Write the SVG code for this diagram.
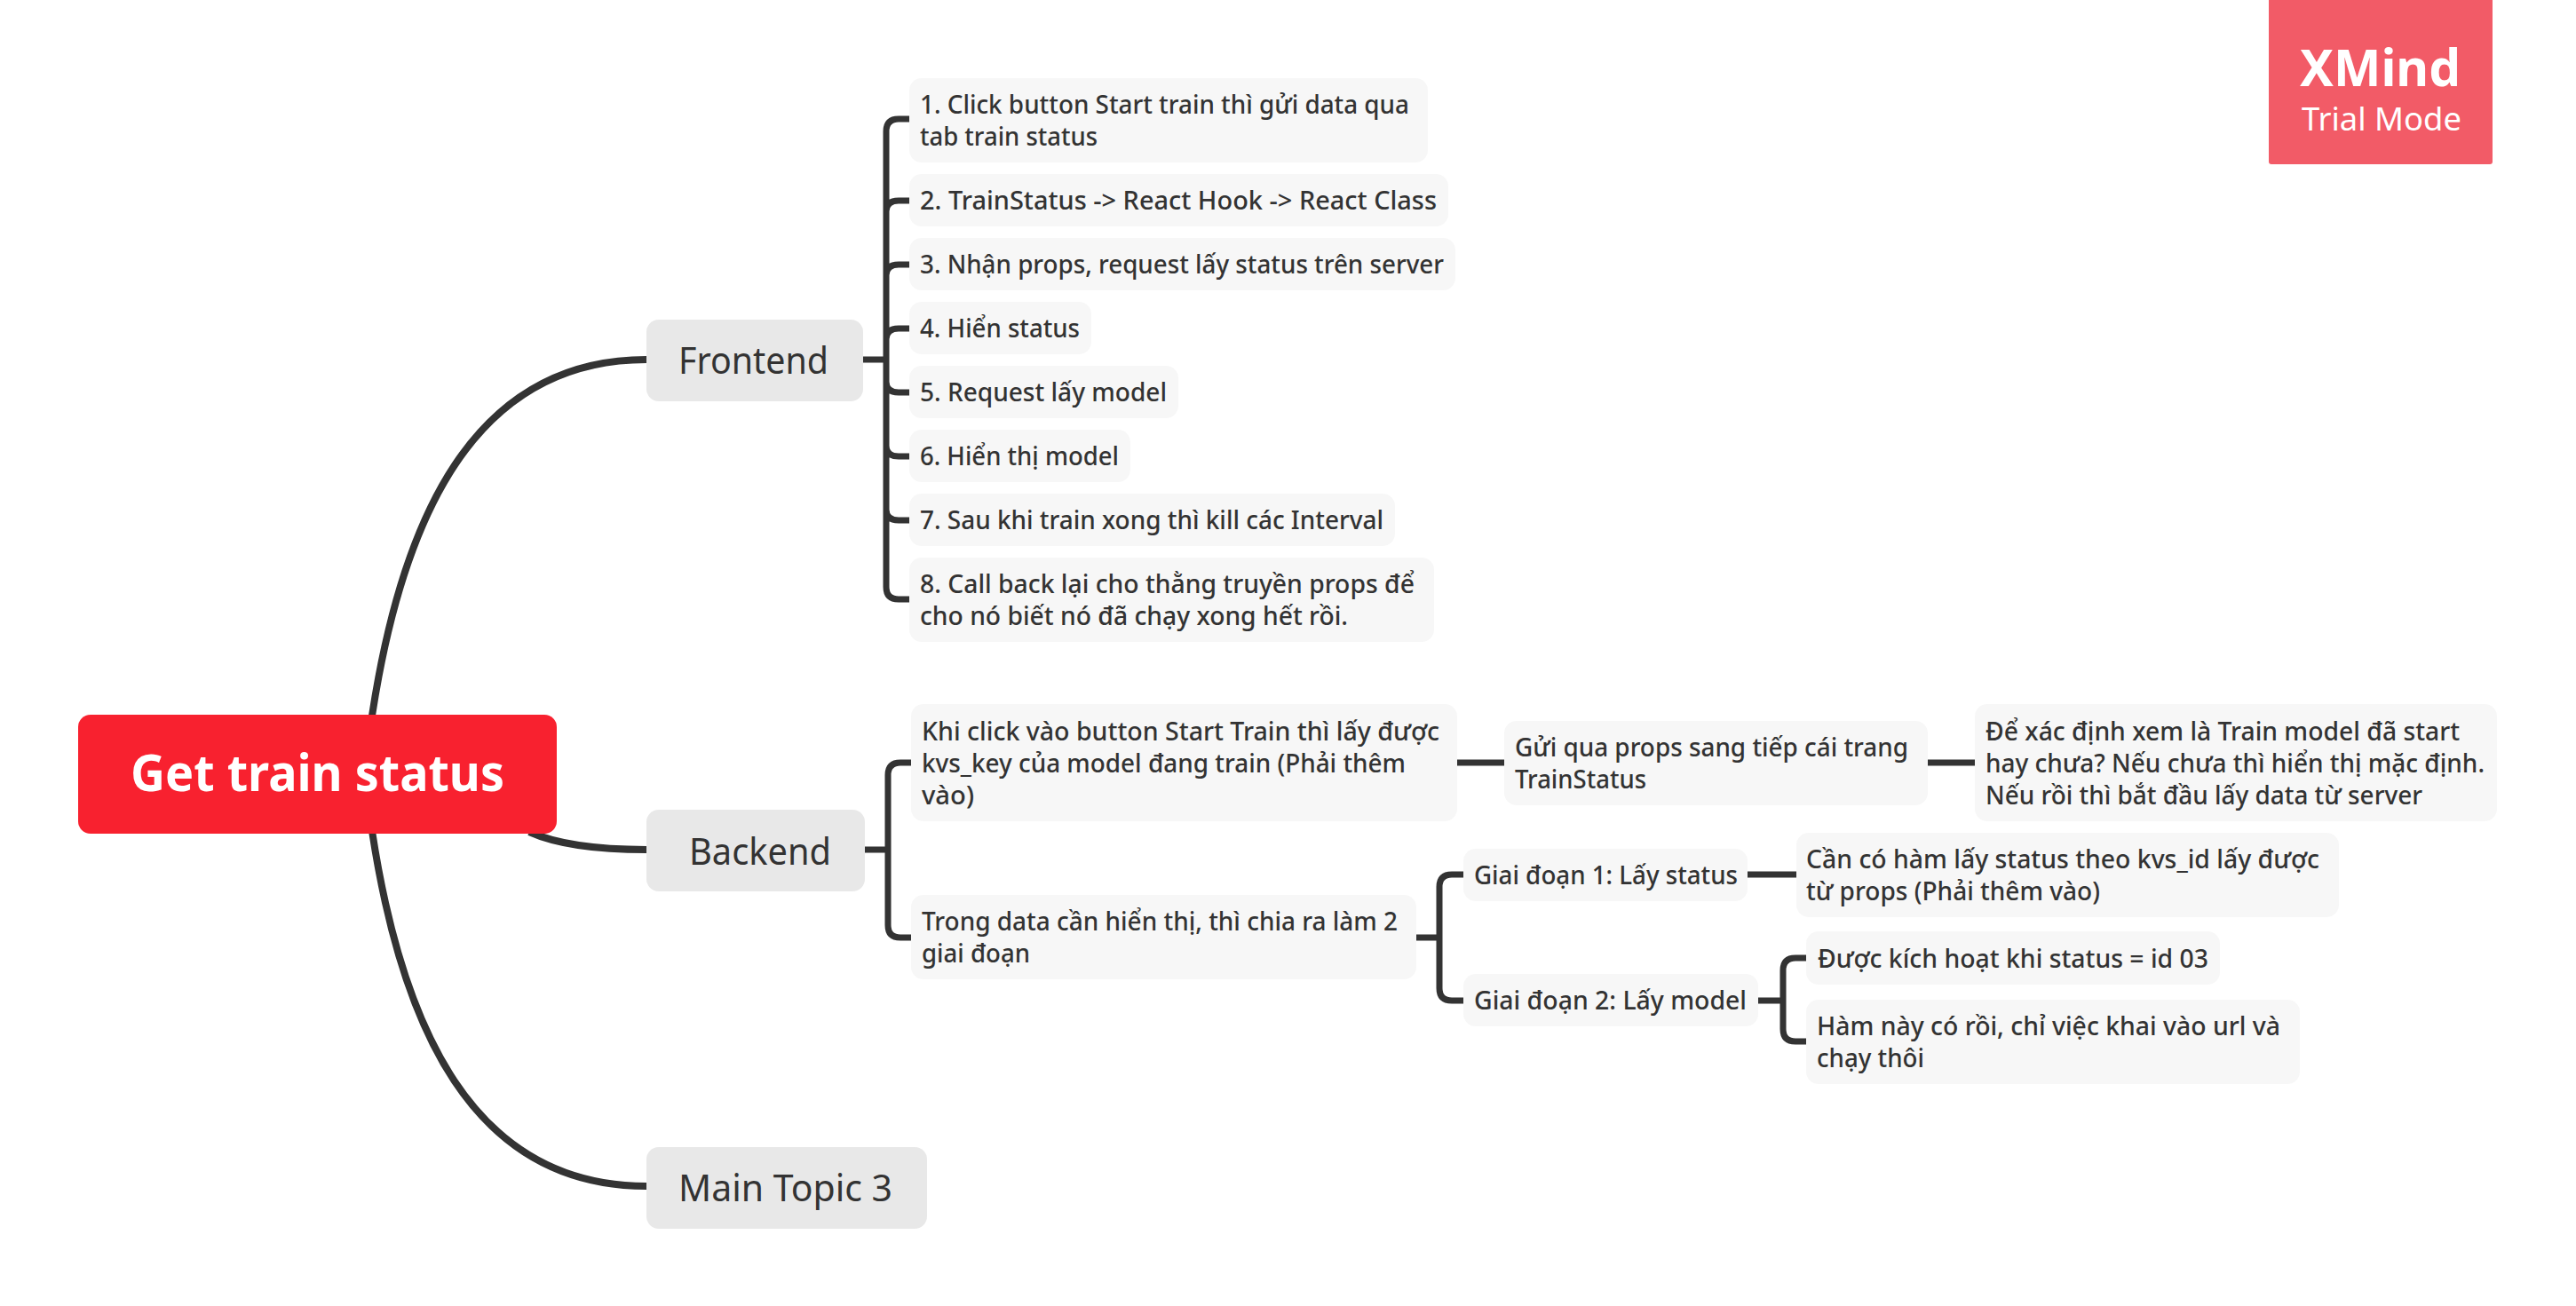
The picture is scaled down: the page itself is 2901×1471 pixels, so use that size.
<svg xmlns="http://www.w3.org/2000/svg" width="2901" height="1471" viewBox="0 0 2901 1471">
<style>
text{font-family:"Noto Sans","Liberation Sans",sans-serif;fill:#333;font-weight:400}
.s rect{fill:#F7F7F7}
.s text{font-size:28.5px;font-weight:500}
.m rect{fill:#E8E8E8}
.m text{font-size:42px}
.c path{fill:none;stroke:#333;stroke-width:7}
.c .b{stroke-width:8}
text.w{fill:#fff;font-weight:700}
</style>
<rect width="2901" height="1471" fill="#fff"/>
<g id="connectors" class="c">
<path class="b" d="M419 806C452 590 530 405 728 405"/>
<path class="b" d="M419 936C452 1153 530 1336 728 1336"/>
<path class="b" d="M596 937C625 950 665 957 728 957"/>
<path d="M972 405H998M1024 134H1012Q998 134 998 148V661Q998 675 1012 675H1024M1024 226H1012Q998 226 998 238M1024 298H1012Q998 298 998 310M1024 370H1012Q998 370 998 382M1024 442H1012Q998 442 998 430M1024 514H1012Q998 514 998 502M1024 586H1012Q998 586 998 574"/>
<path d="M974 957H1000M1026 859H1014Q1000 859 1000 873V1042Q1000 1056 1014 1056H1026"/>
<path d="M1641 859H1694M2171 859H2224"/>
<path d="M1595 1056H1621M1648 985H1635Q1621 985 1621 999V1113Q1621 1127 1635 1127H1648"/>
<path d="M1968 985H2023"/>
<path d="M1980 1127H2008M2034 1079H2022Q2008 1079 2008 1093V1159Q2008 1173 2022 1173H2034"/>
</g>
<g id="root"><rect x="88" y="805" width="539" height="134" rx="14" fill="#F8212F"/><text class="w" x="147" y="891" font-size="57" textLength="421" lengthAdjust="spacingAndGlyphs">Get train status</text></g>
<g id="frontend" class="m"><rect x="728" y="360" width="244" height="92" rx="14"/><text x="764" y="421" textLength="169" lengthAdjust="spacingAndGlyphs">Frontend</text></g>
<g id="backend" class="m"><rect x="728" y="912" width="246" height="92" rx="14"/><text x="776" y="974" textLength="160" lengthAdjust="spacingAndGlyphs">Backend</text></g>
<g id="topic3" class="m"><rect x="728" y="1292" width="316" height="92" rx="14"/><text x="764" y="1353" textLength="241" lengthAdjust="spacingAndGlyphs">Main Topic 3</text></g>
<g id="f1" class="s"><rect x="1024" y="88" width="584" height="95" rx="14"/><text x="1036" y="128" textLength="551" lengthAdjust="spacingAndGlyphs">1. Click button Start train thì gửi data qua</text><text x="1036" y="164" textLength="200" lengthAdjust="spacingAndGlyphs">tab train status</text></g>
<g id="f2" class="s"><rect x="1024" y="196" width="607" height="59" rx="14"/><text x="1036" y="236" textLength="582" lengthAdjust="spacingAndGlyphs">2. TrainStatus -&gt; React Hook -&gt; React Class</text></g>
<g id="f3" class="s"><rect x="1024" y="268" width="615" height="59" rx="14"/><text x="1036" y="308" textLength="590" lengthAdjust="spacingAndGlyphs">3. Nhận props, request lấy status trên server</text></g>
<g id="f4" class="s"><rect x="1024" y="340" width="205" height="59" rx="14"/><text x="1036" y="380" textLength="180" lengthAdjust="spacingAndGlyphs">4. Hiển status</text></g>
<g id="f5" class="s"><rect x="1024" y="412" width="303" height="59" rx="14"/><text x="1036" y="452" textLength="278" lengthAdjust="spacingAndGlyphs">5. Request lấy model</text></g>
<g id="f6" class="s"><rect x="1024" y="484" width="249" height="59" rx="14"/><text x="1036" y="524" textLength="224" lengthAdjust="spacingAndGlyphs">6. Hiển thị model</text></g>
<g id="f7" class="s"><rect x="1024" y="556" width="547" height="59" rx="14"/><text x="1036" y="596" textLength="522" lengthAdjust="spacingAndGlyphs">7. Sau khi train xong thì kill các Interval</text></g>
<g id="f8" class="s"><rect x="1024" y="628" width="591" height="95" rx="14"/><text x="1036" y="668" textLength="557" lengthAdjust="spacingAndGlyphs">8. Call back lại cho thằng truyền props để</text><text x="1036" y="704" textLength="482" lengthAdjust="spacingAndGlyphs">cho nó biết nó đã chạy xong hết rồi.</text></g>
<g id="b1" class="s"><rect x="1026" y="793" width="615" height="132" rx="14"/><text x="1038" y="834" textLength="583" lengthAdjust="spacingAndGlyphs">Khi click vào button Start Train thì lấy được</text><text x="1038" y="870" textLength="545" lengthAdjust="spacingAndGlyphs">kvs_key của model đang train (Phải thêm</text><text x="1038" y="906" textLength="59" lengthAdjust="spacingAndGlyphs">vào)</text></g>
<g id="b11" class="s"><rect x="1694" y="812" width="477" height="95" rx="14"/><text x="1706" y="852" textLength="443" lengthAdjust="spacingAndGlyphs">Gửi qua props sang tiếp cái trang</text><text x="1706" y="888" textLength="148" lengthAdjust="spacingAndGlyphs">TrainStatus</text></g>
<g id="b111" class="s"><rect x="2224" y="793" width="588" height="132" rx="14"/><text x="2236" y="834" textLength="534" lengthAdjust="spacingAndGlyphs">Để xác định xem là Train model đã start</text><text x="2236" y="870" textLength="562" lengthAdjust="spacingAndGlyphs">hay chưa? Nếu chưa thì hiển thị mặc định.</text><text x="2236" y="906" textLength="492" lengthAdjust="spacingAndGlyphs">Nếu rồi thì bắt đầu lấy data từ server</text></g>
<g id="b2" class="s"><rect x="1026" y="1008" width="569" height="95" rx="14"/><text x="1038" y="1048" textLength="536" lengthAdjust="spacingAndGlyphs">Trong data cần hiển thị, thì chia ra làm 2</text><text x="1038" y="1084" textLength="122" lengthAdjust="spacingAndGlyphs">giai đoạn</text></g>
<g id="g1" class="s"><rect x="1648" y="956" width="320" height="59" rx="14"/><text x="1660" y="996" textLength="297" lengthAdjust="spacingAndGlyphs">Giai đoạn 1: Lấy status</text></g>
<g id="g11" class="s"><rect x="2023" y="938" width="611" height="95" rx="14"/><text x="2034" y="978" textLength="578" lengthAdjust="spacingAndGlyphs">Cần có hàm lấy status theo kvs_id lấy được</text><text x="2034" y="1014" textLength="331" lengthAdjust="spacingAndGlyphs">từ props (Phải thêm vào)</text></g>
<g id="g2" class="s"><rect x="1648" y="1097" width="332" height="59" rx="14"/><text x="1660" y="1137" textLength="307" lengthAdjust="spacingAndGlyphs">Giai đoạn 2: Lấy model</text></g>
<g id="g21" class="s"><rect x="2034" y="1049" width="466" height="60" rx="14"/><text x="2047" y="1090" textLength="440" lengthAdjust="spacingAndGlyphs">Được kích hoạt khi status = id 03</text></g>
<g id="g22" class="s"><rect x="2034" y="1126" width="556" height="95" rx="14"/><text x="2046" y="1166" textLength="522" lengthAdjust="spacingAndGlyphs">Hàm này có rồi, chỉ việc khai vào url và</text><text x="2046" y="1202" textLength="121" lengthAdjust="spacingAndGlyphs">chạy thôi</text></g>
<g id="badge"><path d="M2555 0H2807V182Q2807 185 2804 185H2558Q2555 185 2555 182Z" fill="#F25B67"/><text class="w" x="2590" y="97" font-size="57" textLength="181" lengthAdjust="spacingAndGlyphs">XMind</text><text x="2592" y="147" font-size="37" textLength="180" lengthAdjust="spacingAndGlyphs" style="fill:#fff">Trial Mode</text></g>
</svg>
